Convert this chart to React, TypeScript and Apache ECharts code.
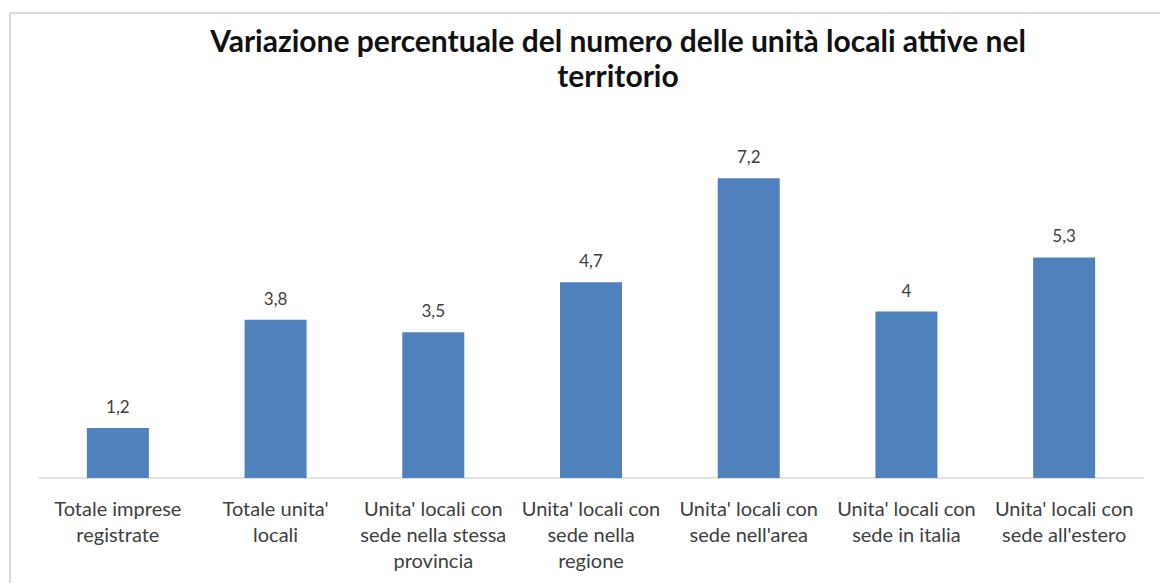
import React, { useEffect, useRef } from "react";
import * as echarts from "echarts";

const titleText = "Variazione percentuale del numero delle unità locali attive nel\nterritorio";
const categories = [
  "Totale imprese\nregistrate",
  "Totale unita'\nlocali",
  "Unita' locali con\nsede nella stessa\nprovincia",
  "Unita' locali con\nsede nella\nregione",
  "Unita' locali con\nsede nell'area",
  "Unita' locali con\nsede in italia",
  "Unita' locali con\nsede all'estero",
];
const values = [1.2, 3.8, 3.5, 4.7, 7.2, 4, 5.3];

export default function App() {
  const ref = useRef<HTMLDivElement>(null);
  useEffect(() => {
    if (!ref.current) return;
    const chart = echarts.init(ref.current, null, { renderer: "svg" });
    chart.setOption({
      animation: false,
      backgroundColor: "#ffffff",
      textStyle: { fontFamily: "Lato" },
      title: {
        text: titleText,
        left: 613,
        top: 17,
        textAlign: "center",
        textStyle: {
          fontFamily: "Lato",
          fontSize: 30,
          fontWeight: "bold",
          color: "#111111",
          lineHeight: 35,
        },
      },
      graphic: [
        {
          type: "line",
          shape: { x1: 10, y1: 13, x2: 1160, y2: 13 },
          style: { stroke: "#d9d9d9", lineWidth: 2 },
        },
        {
          type: "line",
          shape: { x1: 10, y1: 13, x2: 10, y2: 583 },
          style: { stroke: "#d9d9d9", lineWidth: 2 },
        },
      ],
      grid: { left: 39, right: 17, top: 145, bottom: 105 },
      xAxis: {
        type: "category",
        data: categories,
        axisLine: { show: true, lineStyle: { color: "#d9d9d9", width: 1.5 } },
        axisTick: { show: false },
        axisLabel: {
          interval: 0,
          color: "#404040",
          fontFamily: "Lato",
          fontSize: 20,
          lineHeight: 26,
          margin: 17,
        },
      },
      yAxis: {
        type: "value",
        min: 0,
        max: 8,
        show: false,
        splitLine: { show: false },
      },
      series: [
        {
          type: "bar",
          data: values,
          barWidth: 62,
          itemStyle: { color: "#4f81bd" },
          label: {
            show: true,
            position: "top",
            distance: 13,
            color: "#404040",
            fontFamily: "Lato",
            fontSize: 17,
            formatter: (p: any) => String(p.value).replace(".", ","),
          },
        },
      ],
    });
    return () => chart.dispose();
  }, []);
  return (
    <div
      ref={ref}
      style={{ position: "fixed", left: 0, top: 0, width: 1160, height: 583 }}
    />
  );
}
